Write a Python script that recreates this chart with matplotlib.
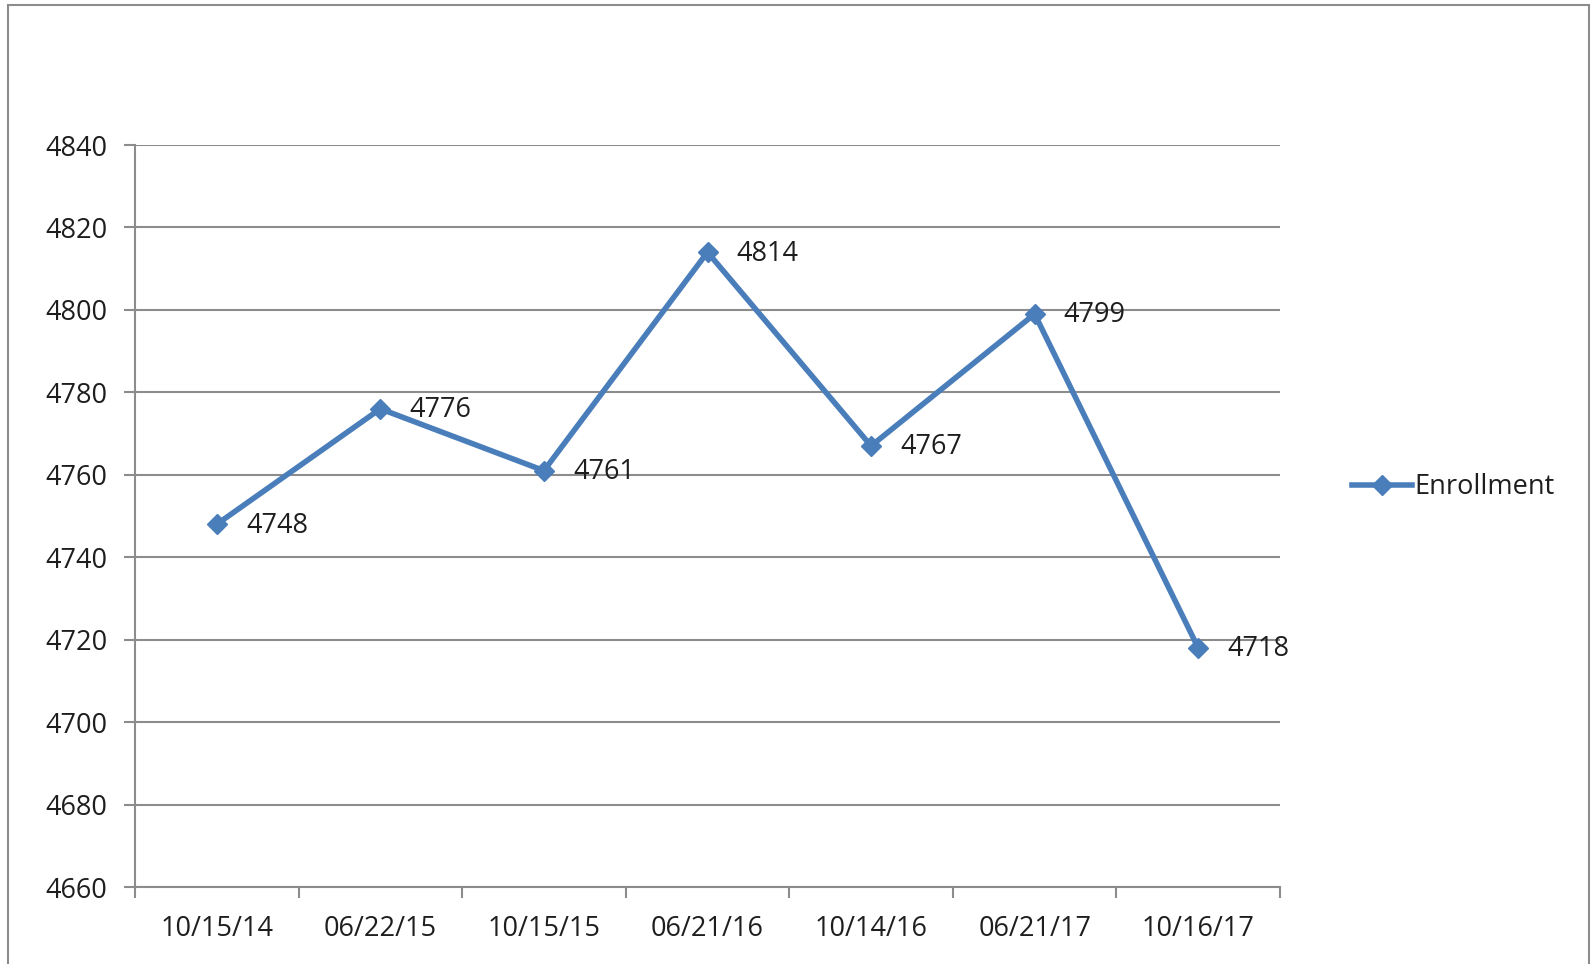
import matplotlib.pyplot as plt
from matplotlib.patches import Rectangle

# Enrollment counts by census date
dates = ['10/15/14', '06/22/15', '10/15/15', '06/21/16', '10/14/16', '06/21/17', '10/16/17']
enrollment = [4748, 4776, 4761, 4814, 4767, 4799, 4718]
y_ticks = list(range(4660, 4841, 20))

W, H = 1591, 964
fig = plt.figure(figsize=(W / 100, H / 100), dpi=100)
plt.rcParams['font.family'] = ['Open Sans', 'DejaVu Sans']
FS = 19.5
TXT = '#1e1e1e'

# chart frame
fig.patches.append(Rectangle((8 / W, -0.01), (1589 - 8) / W, 1 - 5 / H + 0.01,
                             transform=fig.transFigure, fill=False,
                             edgecolor='#8c8c8c', linewidth=1.5))

ax = fig.add_axes([135 / W, 1 - 887 / H, (1280 - 135) / W, (887 - 145) / H])

x = list(range(len(dates)))
line, = ax.plot(x, enrollment, color='#4a7ebb', linewidth=4, marker='D',
                markersize=10, label='Enrollment', zorder=3)

for xi, v in zip(x, enrollment):
    ax.annotate(str(v), (xi, v), xytext=(21, -1), textcoords='offset points',
                ha='left', va='center', fontsize=FS, color=TXT)

ax.set_xlim(-0.5, len(dates) - 0.5)
ax.set_ylim(4660, 4840)
ax.set_yticks(y_ticks)
ax.set_yticklabels([str(t) for t in y_ticks], fontsize=FS, color=TXT)
ax.set_xticks([i - 0.5 for i in range(len(dates) + 1)])
ax.set_xticklabels([])
ax.set_xticks(x, minor=True)
ax.set_xticklabels(dates, minor=True, fontsize=FS, color=TXT)
ax.tick_params(axis='x', which='minor', length=0, pad=20)
ax.tick_params(axis='x', which='major', length=8, width=1.5, color='#8c8c8c', direction='out')
ax.tick_params(axis='y', length=8, width=1.5, color='#8c8c8c', direction='out', pad=12)

ax.grid(axis='y', color='#8c8c8c', linewidth=1.5)
ax.set_axisbelow(True)
for side in ['top', 'right']:
    ax.spines[side].set_visible(False)
for side in ['left', 'bottom']:
    ax.spines[side].set_color('#8c8c8c')
    ax.spines[side].set_linewidth(1.5)

fig.legend(handles=[line], loc='center left', bbox_to_anchor=(1328 / W, 1 - 487 / H),
           frameon=False, fontsize=FS, handlelength=2.2, handletextpad=0.1,
           labelcolor=TXT)

fig.savefig('out.png', dpi=100)
